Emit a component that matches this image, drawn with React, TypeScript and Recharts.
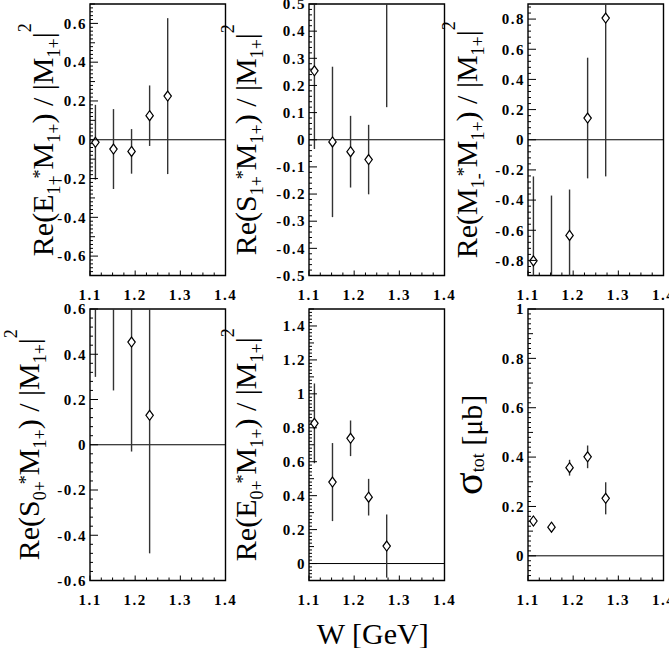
import React from 'react';
import { ScatterChart, Scatter, XAxis, YAxis, ErrorBar, ReferenceLine, ReferenceArea } from 'recharts';

// W bins (GeV)
const W_GEV = [1.112, 1.152, 1.192, 1.232, 1.272];
const W_GEV_S0P = [1.112, 1.152, 1.192, 1.232];

// Re(E1+* M1+) / |M1+|^2
const E1P_VAL = [-0.013, -0.048, -0.06, 0.124, 0.225];
const E1P_ERR = [0.193, 0.206, 0.115, 0.156, 0.402];
// Re(S1+* M1+) / |M1+|^2
const S1P_VAL = [0.254, -0.008, -0.044, -0.073, 0.62];
const S1P_ERR = [0.288, 0.277, 0.132, 0.128, 0.5];
// Re(M1-* M1+) / |M1+|^2
const M1M_VAL = [-0.803, -1.0, -0.634, 0.144, 0.807];
const M1M_ERR = [0.56, 0.63, 0.304, 0.4, 1.05];
// Re(S0+* M1+) / |M1+|^2
const S0P_VAL = [0.72, 0.75, 0.454, 0.13];
const S0P_ERR = [0.42, 0.51, 0.484, 0.61];
// Re(E0+* M1+) / |M1+|^2
const E0P_VAL = [0.826, 0.48, 0.738, 0.391, 0.103];
const E0P_ERR = [0.235, 0.23, 0.105, 0.108, 0.186];
// sigma_tot [mub]
const SIG_VAL = [0.141, 0.116, 0.357, 0.401, 0.233];
const SIG_ERR = [0.02, 0.012, 0.032, 0.046, 0.065];

const X_TICKS = [1.1, 1.2, 1.3, 1.4];
const Y_TICKS_E1P = [-0.6, -0.4, -0.2, 0, 0.2, 0.4, 0.6];
const Y_TICKS_S1P = [-0.5, -0.4, -0.3, -0.2, -0.1, 0, 0.1, 0.2, 0.3, 0.4, 0.5];
const Y_TICKS_M1M = [-0.8, -0.6, -0.4, -0.2, 0, 0.2, 0.4, 0.6, 0.8];
const Y_TICKS_S0P = [-0.6, -0.4, -0.2, 0, 0.2, 0.4, 0.6];
const Y_TICKS_E0P = [0, 0.2, 0.4, 0.6, 0.8, 1, 1.2, 1.4];
const Y_TICKS_SIG = [0, 0.2, 0.4, 0.6, 0.8, 1];

const FONT = '"Liberation Serif", "Times New Roman", Times, serif';
const YW = 120; // y axis box width (room for the rotated title)
const MT = 8;
const MR = 16;
const XH = 72;
const PW = 135.5;
const PH = 271.5;

type Seg = { t: string; k?: 'sub' | 'sup' | 'big'; dx?: number; rise?: number };

const ratioLabel = (a: string, aSub: string): Seg[] => [
  { t: 'Re(' + a },
  { t: aSub, k: 'sub' },
  { t: '*', k: 'sup', dx: -3, rise: 7 },
  { t: 'M' },
  { t: '1+', k: 'sub' },
  { t: ') / |M' },
  { t: '1+', k: 'sub' },
  { t: '|' },
  { t: '2', k: 'sup', rise: 22 },
];

const SIG_LABEL: Seg[] = [
  { t: 'σ', k: 'big' },
  { t: 'tot', k: 'sub', rise: -2 },
  { t: ' [μb]' },
];

const renderSegs = (segs: Seg[]) => {
  let cur = 0;
  return segs.map((s, i) => {
    let target = 0;
    if (s.k === 'sub') target = s.rise != null ? -s.rise : 7;
    if (s.k === 'sup') target = -(s.rise ?? 7);
    const dy = target - cur;
    cur = target;
    const fs = s.k === 'sub' || s.k === 'sup' ? 18 : s.k === 'big' ? 42 : undefined;
    return (
      <tspan key={i} dx={s.dx} dy={dy || undefined} fontSize={fs}>
        {s.t}
      </tspan>
    );
  });
};

const tickList = (lo: number, hi: number, anchor: number, step: number) => {
  const out: number[] = [];
  const k0 = Math.ceil((lo - anchor) / step - 1e-6);
  const k1 = Math.floor((hi - anchor) / step + 1e-6);
  for (let k = k0; k <= k1; k++) out.push(Math.round((anchor + k * step) * 10000) / 10000);
  return out;
};

const fmt = (v: number) => String(Math.round(v * 100) / 100);
const near = (a: number, b: number) => Math.abs(a - b) < 1e-6;

const tickFont = { fontFamily: FONT, fontSize: 15, fontWeight: 700, letterSpacing: 1.5, fill: '#000' };

const makeYTick = (major: number[], mid: number) => (props: any) => {
  const { x, y, payload } = props;
  const v = payload.value;
  const isMajor = major.some((m) => near(m, v));
  const isMid = !isMajor && mid > 0 && near(v / mid, Math.round(v / mid));
  const len = isMajor ? 8 : isMid ? 5 : 3;
  return (
    <g>
      <line x1={x} x2={x + len} y1={y} y2={y} stroke="#000" strokeWidth={1} />
      {isMajor && (
        <text x={x - 3} y={y} dy="0.35em" textAnchor="end" {...tickFont}>
          {fmt(v)}
        </text>
      )}
    </g>
  );
};

const XTick = (props: any) => {
  const { x, y, payload } = props;
  const v = payload.value;
  const isMajor = X_TICKS.some((m) => near(m, v));
  return (
    <g>
      <line x1={x} x2={x} y1={y} y2={y - (isMajor ? 5 : 3)} stroke="#000" strokeWidth={1} />
      {isMajor && (
        <text x={x} y={y + 24.5} textAnchor="middle" {...tickFont}>
          {fmt(v)}
        </text>
      )}
    </g>
  );
};

const Diamond = (p: any) => {
  const { cx, cy } = p;
  if (cx == null || cy == null) return null;
  return (
    <polygon
      points={`${cx},${cy - 5} ${cx + 3.7},${cy} ${cx},${cy + 5} ${cx - 3.7},${cy}`}
      fill="#fff"
      stroke="#000"
      strokeWidth={1.2}
    />
  );
};

const X_ALL = tickList(1.1, 1.4, 1.1, 0.025);

interface PanelProps {
  left: number;
  top: number;
  w: number[];
  vals: number[];
  errs: number[];
  yMin: number;
  yMax: number;
  yMajor: number[];
  minor: number;
  mid: number;
  label: Seg[];
  gap: number;
  xTitle?: boolean;
}

const Panel = ({ left, top, w, vals, errs, yMin, yMax, yMajor, minor, mid, label, gap, xTitle }: PanelProps) => {
  // error bars are cut at the frame, like the markers
  const data = w.map((wv, i) => ({
    w: wv,
    v: vals[i],
    err: [Math.min(errs[i], vals[i] - yMin), Math.min(errs[i], yMax - vals[i])],
  }));
  const yAll = tickList(yMin, yMax, yMajor[0], minor);
  const bx = YW - gap;
  const cy = MT + PH / 2;
  return (
    <div style={{ position: 'absolute', left: left - YW, top: top - MT }}>
      <ScatterChart
        width={YW + PW + MR}
        height={MT + PH + XH}
        margin={{ top: MT, right: MR, left: 0, bottom: 0 }}
      >
        <XAxis
          type="number"
          dataKey="w"
          domain={[1.1, 1.4]}
          ticks={X_ALL}
          interval={0}
          allowDataOverflow
          axisLine={false}
          tickLine={false}
          tickSize={0}
          tickMargin={0}
          height={XH}
          tick={XTick}
          label={{
            content: () =>
              xTitle ? (
                <text x={YW + PW / 2 - 4} y={MT + PH + 63} textAnchor="middle" fontFamily={FONT} fontSize={30} fill="#000">
                  W [GeV]
                </text>
              ) : null,
          }}
        />
        <YAxis
          type="number"
          dataKey="v"
          domain={[yMin, yMax]}
          ticks={yAll}
          interval={0}
          allowDataOverflow
          axisLine={false}
          tickLine={false}
          tickSize={0}
          tickMargin={0}
          width={YW}
          tick={makeYTick(yMajor, mid)}
          label={{
            content: () => (
              <text
                x={bx}
                y={cy}
                transform={`rotate(-90 ${bx} ${cy})`}
                textAnchor="middle"
                fontFamily={FONT}
                fontSize={30}
                fill="#000"
              >
                {renderSegs(label)}
              </text>
            ),
          }}
        />
        <ReferenceArea x1={1.1} x2={1.4} y1={yMin} y2={yMax} fill="none" fillOpacity={0} stroke="#000" strokeWidth={1.4} />
        <ReferenceLine y={0} stroke="#000" strokeWidth={1} />
        <Scatter data={data} shape={Diamond} isAnimationActive={false}>
          <ErrorBar dataKey="err" direction="y" width={0} stroke="#333" strokeWidth={1.4} isAnimationActive={false} />
        </Scatter>
      </ScatterChart>
    </div>
  );
};

export default function App() {
  return (
    <div style={{ position: 'absolute', left: 0, top: 0, width: 669, height: 648, background: '#fff', overflow: 'hidden' }}>
      <Panel left={89.5} top={3.5} w={W_GEV} vals={E1P_VAL} errs={E1P_ERR} yMin={-0.7} yMax={0.7}
        yMajor={Y_TICKS_E1P} minor={0.02} mid={0.1} label={ratioLabel('E', '1+')} gap={37.5} />
      <Panel left={308.5} top={3.5} w={W_GEV} vals={S1P_VAL} errs={S1P_ERR} yMin={-0.5} yMax={0.5}
        yMajor={Y_TICKS_S1P} minor={0.02} mid={0} label={ratioLabel('S', '1+')} gap={53.5} />
      <Panel left={527.5} top={3.5} w={W_GEV} vals={M1M_VAL} errs={M1M_ERR} yMin={-0.9} yMax={0.9}
        yMajor={Y_TICKS_M1M} minor={0.04} mid={0} label={ratioLabel('M', '1-')} gap={51.5} />
      <Panel left={90} top={309} w={W_GEV_S0P} vals={S0P_VAL} errs={S0P_ERR} yMin={-0.6} yMax={0.6}
        yMajor={Y_TICKS_S0P} minor={0.04} mid={0} label={ratioLabel('S', '0+')} gap={51} />
      <Panel left={308.5} top={309} w={W_GEV} vals={E0P_VAL} errs={E0P_ERR} yMin={-0.1} yMax={1.5}
        yMajor={Y_TICKS_E0P} minor={0.02} mid={0.1} label={ratioLabel('E', '0+')} gap={53.5} xTitle />
      <Panel left={527.5} top={309} w={W_GEV} vals={SIG_VAL} errs={SIG_ERR} yMin={-0.1} yMax={1}
        yMajor={Y_TICKS_SIG} minor={0.02} mid={0.1} label={SIG_LABEL} gap={46.5} />
    </div>
  );
}
